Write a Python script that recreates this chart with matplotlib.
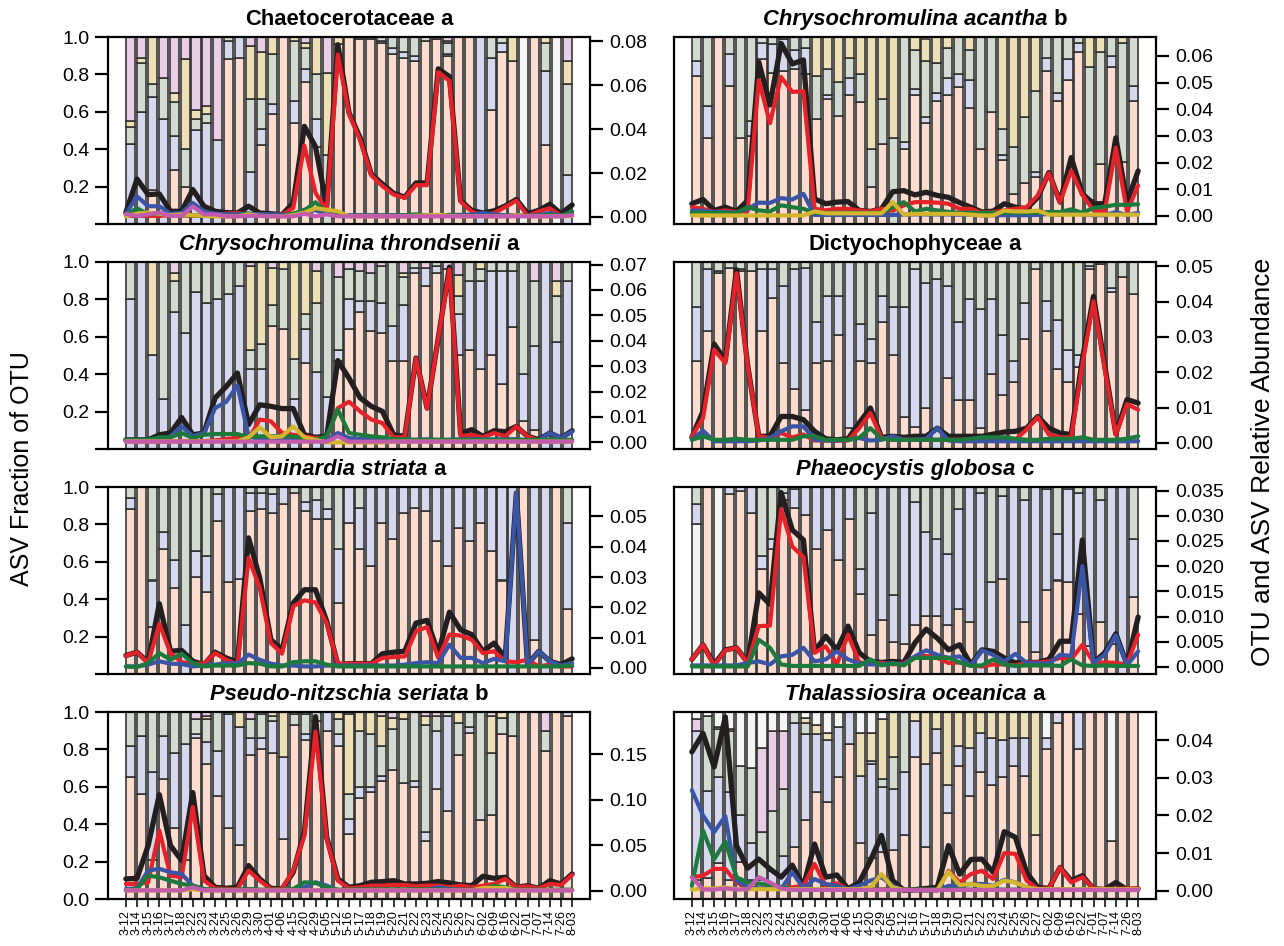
import numpy as np
import matplotlib.pyplot as plt

plt.rcParams['font.family'] = ['Liberation Sans', 'DejaVu Sans']

dates = ["3-12", "3-14", "3-15", "3-16", "3-17", "3-18", "3-22", "3-23", "3-24", "3-25",
         "3-26", "3-29", "3-30", "4-01", "4-06", "4-15", "4-20", "4-29", "5-05", "5-12",
         "5-16", "5-17", "5-18", "5-19", "5-20", "5-21", "5-22", "5-23", "5-24", "5-25",
         "5-26", "5-27", "6-02", "6-09", "6-16", "6-22", "7-01", "7-07", "7-14", "7-26", "8-03"]

# ---------- panel 1: Chaetocerotaceae a ----------
p1_red = [0, 0, .18, 0, .29, .20, 0, 0, 0, .88,
          .89, 0, .42, .59, 1, .54, .76, .41, 0, .96,
          1, .99, .99, .97, .91, .89, .87, .98, .99, .90,
          1, 1, 0, .61, .92, .87, 0, 1, .42, 0, 0]
p1_blue = [.43, .60, .50, .56, .18, 0, .50, .54, .45, .10,
           .11, .28, .09, .05, 0, .12, .07, .15, 0, 0,
           0, 0, 0, .01, .03, .03, .03, 0, 0, .01,
           0, 0, 1, .28, .05, 0, 0, 0, .40, 0, .26]
p1_green = [.09, .26, .07, .22, .18, .20, .06, .05, 0, .02,
            0, .39, .16, .27, 0, .32, .11, .24, .37, 0,
            0, .01, .01, .02, .06, .08, .10, .02, 0, .06,
            0, 0, 0, .11, .03, 0, 0, 0, .15, 0, .49]
p1_yellow = [.03, .03, .25, 0, .05, .48, .05, .04, 0, 0,
             0, .28, .25, .09, 0, .02, .03, .20, .44, .04,
             0, 0, 0, 0, 0, 0, 0, 0, .01, .01,
             0, 0, 0, 0, 0, .13, 0, 0, .03, 0, .12]
p1_pink = [.45, .11, 0, .22, .30, .12, .39, .37, .55, 0,
           0, .05, .08, 0, 0, 0, .03, 0, .19, 0,
           0, 0, 0, 0, 0, 0, 0, 0, 0, .02,
           0, 0, 0, 0, 0, 0, 0, 0, 0, 0, .13]
p1_other = [0, 0, 0, 0, 0, 0, 0, 0, 0, 0,
            0, 0, 0, 0, 0, 0, 0, 0, 0, 0,
            0, 0, 0, 0, 0, 0, 0, 0, 0, 0,
            0, 0, 0, 0, 0, 0, 1, 0, 0, 1, 0]
p1_otu = [0.002, 0.0173, 0.0102, 0.0105, 0.0026, 0.0026, 0.0125, 0.0049, 0.0026, 0.002,
          0.0018, 0.0049, 0.0018, 0.0015, 0.001, 0.0064, 0.0413, 0.032, 0.0049, 0.0785,
          0.0475, 0.036, 0.0195, 0.015, 0.0108, 0.009, 0.0155, 0.0155, 0.0675, 0.064,
          0.0075, 0.003, 0.0018, 0.0028, 0.005, 0.008, 0.0015, 0.003, 0.0058, 0.0015, 0.0055]
p1_red_ab = [0.0005, 0.0005, 0.0005, 0.0005, 0.0008, 0.0008, 0.0005, 0.0006, 0.0008, 0.0015,
             0.0018, 0.001, 0.0012, 0.001, 0.001, 0.004, 0.0325, 0.011, 0.003, 0.074,
             0.047, 0.035, 0.019, 0.014, 0.0102, 0.0087, 0.0145, 0.0145, 0.066, 0.062,
             0.007, 0.0025, 0.0005, 0.0018, 0.0045, 0.0075, 0.0005, 0.0025, 0.004, 0.0005, 0.0005]
p1_blue_ab = [0.0015, 0.0094, 0.0049, 0.0049, 0.0015, 0.0018, 0.0064, 0.0026, 0.0015, 0.0012,
              0.0012, 0.0015, 0.0012, 0.0012, 0.001, 0.0012, 0.0033, 0.003, 0.0015, 0.001,
              0.0008, 0.0008, 0.0008, 0.0008, 0.0008, 0.0008, 0.0008, 0.0008, 0.0008, 0.0008,
              0.001, 0.001, 0.0018, 0.0012, 0.0008, 0.0008, 0.0005, 0.0008, 0.0018, 0.0005, 0.0012]
p1_green_ab = [0.0008, 0.004, 0.0012, 0.0015, 0.0008, 0.0008, 0.0008, 0.0005, 0.0005, 0.0005,
               0.0005, 0.0015, 0.0005, 0.0005, 0.0005, 0.0015, 0.003, 0.0067, 0.002, 0.0005,
               0.0005, 0.0005, 0.0005, 0.0005, 0.0006, 0.0007, 0.0012, 0.0005, 0.0005, 0.001,
               0.0005, 0.0005, 0.0005, 0.0005, 0.0005, 0.0005, 0.0005, 0.0005, 0.001, 0.0005, 0.0025]
p1_yellow_ab = [0.0003, 0.0015, 0.002, 0.0015, 0.0008, 0.0012, 0.0008, 0.0005, 0.0003, 0.0003,
                0.0003, 0.0012, 0.0005, 0.0003, 0.0003, 0.0008, 0.002, 0.004, 0.0033, 0.0026,
                0.0003, 0.0003, 0.0003, 0.0003, 0.0003, 0.0003, 0.0005, 0.0008, 0.001, 0.0005,
                0.0003, 0.0003, 0.0003, 0.0003, 0.0003, 0.0008, 0.0003, 0.0003, 0.0003, 0.0003, 0.0005]
p1_pink_ab = [0.0014, 0.0005, 0.0012, 0.002, 0.0005, 0.0005, 0.0048, 0.0012, 0.0012, 0.0003,
              0.0003, 0.0005, 0.0005, 0.0003, 0.0003, 0.0003, 0.0015, 0.0003, 0.0012, 0.0003,
              0.0003, 0.0003, 0.0003, 0.0003, 0.0003, 0.0003, 0.0003, 0.0003, 0.0003, 0.0003,
              0.0003, 0.0003, 0.0003, 0.0003, 0.0003, 0.0003, 0.0003, 0.0003, 0.0003, 0.0003, 0.0008]

# ---------- panel 2: Chrysochromulina acantha b ----------
p2_red = [.79, .46, 1, .74, .46, .47, .88, .81, .82, .83,
          .80, .56, .67, .58, .69, .65, .20, .43, 0, .40,
          .69, .54, .66, .69, .73, .62, .40, .60, .34, .16,
          .22, .25, .82, .66, .77, .92, .13, .32, .84, .33, .66]
p2_blue = [.08, .17, 0, .17, 0, .08, .09, .15, .17, .10,
           .14, 0, .02, 0, .09, 0, 0, 0, 0, .04,
           .03, .03, .04, .09, .07, .15, 0, 0, .03, 0,
           0, .03, .07, .04, .11, .05, 0, 0, .06, 0, .08]
p2_green = [.13, .37, 0, .09, .54, .45, .03, .04, .01, .07,
            .06, .23, .14, .18, .11, .15, .20, .24, .46, .56,
            .21, .30, .16, .16, .20, .16, .60, .40, .14, .25,
            .35, .43, .11, .30, .12, .03, .71, .60, .10, .64, .26]
p2_yellow = [0, 0, 0, 0, 0, 0, 0, 0, 0, 0,
             0, .21, .17, .24, .11, .20, .60, .33, .54, 0,
             .07, .12, .14, .06, 0, .07, 0, 0, .49, .59,
             .43, .30, 0, 0, 0, 0, .16, .08, 0, .03, 0]
p2_otu = [0.0046, 0.0062, 0.0021, 0.0033, 0.0017, 0.0058, 0.0577, 0.0416, 0.0647, 0.057,
          0.0585, 0.0064, 0.0046, 0.0052, 0.0054, 0.0021, 0.0017, 0.0027, 0.0091, 0.0095,
          0.0079, 0.0089, 0.0077, 0.007, 0.005, 0.0033, 0.0015, 0.0018, 0.0046, 0.0033,
          0.0027, 0.007, 0.0163, 0.0052, 0.0219, 0.0083, 0.0046, 0.0046, 0.0293, 0.0052, 0.0169]
p2_red_ab = [0.0033, 0.0027, 0.0015, 0.0021, 0.0015, 0.0018, 0.0509, 0.0348, 0.0521, 0.0465,
             0.0468, 0.0027, 0.0021, 0.0027, 0.0027, 0.0021, 0.0017, 0.0027, 0.002, 0.004,
             0.0052, 0.0052, 0.005, 0.0046, 0.0027, 0.0027, 0.0012, 0.0015, 0.0021, 0.0027,
             0.0033, 0.0077, 0.016, 0.0052, 0.0169, 0.0079, 0.0021, 0.0017, 0.0256, 0.0017, 0.0114]
p2_blue_ab = [0.002, 0.002, 0.0015, 0.0015, 0.0012, 0.0027, 0.005, 0.0049, 0.0067, 0.0062,
              0.0083, 0.0004, 0.0004, 0.0004, 0.0004, 0.0004, 0.0004, 0.0004, 0.0004, 0.0005,
              0.0006, 0.0006, 0.0006, 0.0006, 0.0005, 0.0005, 0.0003, 0.0003, 0.0003, 0.0003,
              0.0003, 0.0004, 0.0008, 0.0004, 0.0015, 0.0005, 0.0003, 0.0003, 0.0015, 0.0003, 0.0012]
p2_green_ab = [0.0012, 0.0012, 0.0012, 0.0012, 0.0012, 0.0033, 0.0021, 0.0017, 0.004, 0.0033,
               0.0027, 0.0012, 0.0012, 0.0012, 0.0012, 0.0012, 0.0012, 0.0012, 0.0033, 0.0052,
               0.0017, 0.0027, 0.0021, 0.0015, 0.0012, 0.0012, 0.0012, 0.0012, 0.0012, 0.0012,
               0.0012, 0.0012, 0.0015, 0.0015, 0.0025, 0.0012, 0.003, 0.0035, 0.0042, 0.0042, 0.0044]
p2_yellow_ab = [0.0002, 0.0002, 0.0002, 0.0002, 0.0002, 0.0002, 0.0002, 0.0002, 0.0002, 0.0002,
                0.0002, 0.0017, 0.001, 0.001, 0.001, 0.001, 0.001, 0.001, 0.0052, 0.0005,
                0.0008, 0.0008, 0.0008, 0.0008, 0.0008, 0.0005, 0.0002, 0.0002, 0.002, 0.0017,
                0.0017, 0.002, 0.0005, 0.0005, 0.0005, 0.0005, 0.0005, 0.0005, 0.0005, 0.0005, 0.0005]

# ---------- panel 3: Chrysochromulina throndsenii a ----------
p3_red = [0, 0, 0, 0, 0, 0, 0, 0, 0, 0,
          0, 0, 0, .66, .64, 0, .46, 0, 0, .47,
          .64, .73, .63, .62, .47, .47, .94, .87, .94, .96,
          .50, .53, .43, .50, .35, .65, .15, .10, 0, 0, 0]
p3_blue = [.80, 1, .50, .27, .73, .62, .84, .78, .80, .83,
           .87, .43, .43, 0, 0, .27, .18, .41, .28, .06,
           .16, .06, .16, .16, .19, .30, .03, .10, .04, 0,
           .22, .37, .47, .45, .60, .30, .25, .45, 1, .57, .90]
p3_green = [.20, 0, 0, .73, .17, .38, .16, .22, .20, .17,
            .13, .10, .13, .11, .32, .21, .08, .37, .72, .39,
            .16, .16, .15, .20, .34, .15, .03, 0, .02, 0,
            .10, .10, .06, .05, .05, .05, .60, .35, 0, .25, .10]
p3_yellow = [0, 0, .50, 0, .04, 0, 0, 0, 0, 0,
             0, .45, .44, .20, .04, .52, .28, .17, 0, 0,
             0, 0, 0, 0, 0, .02, 0, 0, 0, 0,
             .11, 0, .04, 0, 0, 0, 0, 0, 0, .08, 0]
p3_pink = [0, 0, 0, 0, .06, 0, 0, 0, 0, 0,
           0, .02, 0, .03, 0, 0, 0, .05, 0, .08,
           .04, .05, .06, .02, 0, .06, 0, .03, 0, .04,
           .07, 0, 0, 0, 0, 0, 0, .10, 0, .10, 0]
p3_otu = [0.001, 0.001, 0.001, 0.003, 0.0037, 0.0098, 0.003, 0.0037, 0.0175, 0.022,
          0.0273, 0.007, 0.0148, 0.0142, 0.0133, 0.0133, 0.003, 0.002, 0.0024, 0.0322,
          0.0253, 0.0175, 0.0142, 0.0122, 0.003, 0.0024, 0.0332, 0.0135, 0.041, 0.069,
          0.0035, 0.005, 0.0024, 0.0046, 0.0042, 0.0063, 0.0024, 0.0011, 0.0037, 0.0017, 0.0046]
p3_red_ab = [0.0004, 0.0004, 0.0004, 0.0004, 0.0004, 0.0005, 0.0005, 0.0005, 0.0008, 0.0013,
             0.0018, 0.0013, 0.009, 0.0083, 0.0037, 0.003, 0.0024, 0.0017, 0.0017, 0.0135,
             0.016, 0.0122, 0.009, 0.0076, 0.002, 0.002, 0.033, 0.0133, 0.041, 0.068,
             0.0024, 0.003, 0.002, 0.0037, 0.0024, 0.0063, 0.0024, 0.0007, 0.0004, 0.0004, 0.0004]
p3_blue_ab = [0.001, 0.001, 0.001, 0.001, 0.0024, 0.0063, 0.0024, 0.0037, 0.0135, 0.016,
              0.0224, 0.0024, 0.0013, 0.0008, 0.0008, 0.0013, 0.0008, 0.0008, 0.0008, 0.0037,
              0.0017, 0.0013, 0.0012, 0.001, 0.001, 0.001, 0.001, 0.0012, 0.001, 0.001,
              0.0012, 0.0013, 0.0012, 0.0012, 0.0012, 0.0013, 0.0008, 0.0008, 0.0037, 0.0017, 0.0043]
p3_green_ab = [0.001, 0.001, 0.001, 0.002, 0.002, 0.0037, 0.0017, 0.003, 0.0033, 0.0033,
               0.0033, 0.002, 0.0024, 0.0024, 0.0024, 0.0024, 0.0014, 0.001, 0.0024, 0.0129,
               0.0037, 0.003, 0.0024, 0.002, 0.0013, 0.0012, 0.001, 0.001, 0.001, 0.001,
               0.001, 0.001, 0.001, 0.001, 0.001, 0.001, 0.001, 0.001, 0.001, 0.001, 0.001]
p3_yellow_ab = [0.0004, 0.0004, 0.0004, 0.0004, 0.0004, 0.0004, 0.0004, 0.0004, 0.0004, 0.0004,
                0.0004, 0.002, 0.0059, 0.002, 0.0024, 0.0063, 0.002, 0.001, 0.0, 0.0,
                0.0, 0.0, 0.0, 0.0, 0.0003, 0.0003, 0.0003, 0.0003, 0.0003, 0.0003,
                0.0003, 0.0003, 0.0003, 0.0003, 0.0003, 0.0003, 0.0003, 0.0003, 0.0003, 0.0003, 0.0003]
p3_pink_ab = [0.0003, 0.0003, 0.0003, 0.0003, 0.0003, 0.0003, 0.0003, 0.0003, 0.0003, 0.0003,
              0.0003, 0.0003, 0.0003, 0.0003, 0.0003, 0.0003, 0.0003, 0.0003, 0.0003, 0.0024,
              0.0003, 0.0003, 0.0003, 0.0003, 0.0003, 0.0003, 0.0003, 0.0003, 0.0003, 0.0003,
              0.0003, 0.0003, 0.0003, 0.0003, 0.0003, 0.0003, 0.0003, 0.0003, 0.0003, 0.0003, 0.0003]

# ---------- panel 4: Dictyochophyceae a ----------
p4_red = [.47, .63, .94, .97, .95, .95, .63, .81, .46, .32,
          .21, .46, .47, .61, .11, .47, .46, .68, .50, .17,
          .12, .22, 0, .38, .26, .26, .11, .40, .29, .36,
          .59, .96, .63, .43, .36, .44, .96, .99, .84, .92, .83]
p4_blue = [.29, .33, .01, 0, .01, 0, .33, .15, .41, .64,
           .76, .22, .35, .21, .89, .20, .13, .14, .26, .59,
           .84, .67, .91, .49, .42, .54, .64, .40, .32, .11,
           .19, 0, .16, .26, .17, .06, .02, .01, .02, 0, 0]
p4_green = [.24, .04, .05, .03, .04, .05, .04, .04, .13, .04,
            .03, .32, .18, .18, 0, .33, .41, .18, .24, .24,
            .04, .11, .09, .13, .32, .20, .25, .20, .39, .53,
            .22, .04, .21, .31, .47, .50, .02, 0, .14, .08, .17]
p4_otu = [0.0016, 0.009, 0.028, 0.0233, 0.049, 0.022, 0.0019, 0.0019, 0.0075, 0.0075,
          0.0066, 0.0033, 0.0012, 0.0009, 0.0012, 0.0057, 0.0099, 0.0016, 0.0019, 0.0016,
          0.0019, 0.0019, 0.0042, 0.0019, 0.0019, 0.0019, 0.0019, 0.0025, 0.0031, 0.0033,
          0.0042, 0.0075, 0.0042, 0.0028, 0.0024, 0.0236, 0.0415, 0.022, 0.0026, 0.0123, 0.0113]
p4_red_ab = [0.0019, 0.007, 0.0264, 0.0226, 0.048, 0.0217, 0.0019, 0.0014, 0.0028, 0.0016,
             0.0024, 0.0007, 0.0007, 0.0007, 0.0007, 0.0042, 0.0085, 0.0014, 0.0009, 0.0009,
             0.0009, 0.0009, 0.0009, 0.0009, 0.0009, 0.0009, 0.0009, 0.0009, 0.0009, 0.0009,
             0.0038, 0.0073, 0.0024, 0.0016, 0.0016, 0.0222, 0.0401, 0.021, 0.0024, 0.011, 0.0094]
p4_blue_ab = [0.0009, 0.0035, 0.0005, 0.0005, 0.0005, 0.0005, 0.0007, 0.0014, 0.0033, 0.0047,
              0.0047, 0.0009, 0.0007, 0.0007, 0.0009, 0.0014, 0.0007, 0.0009, 0.0019, 0.0009,
              0.0009, 0.0012, 0.0042, 0.0007, 0.0005, 0.0005, 0.0005, 0.0005, 0.0005, 0.0005,
              0.0005, 0.0005, 0.0005, 0.0005, 0.0005, 0.0005, 0.0005, 0.0005, 0.0005, 0.0005, 0.0005]
p4_green_ab = [0.0009, 0.0019, 0.0009, 0.0009, 0.0012, 0.0009, 0.0009, 0.0009, 0.0009, 0.0009,
               0.0019, 0.0019, 0.0009, 0.0009, 0.0009, 0.0015, 0.0042, 0.0012, 0.0009, 0.0009,
               0.0009, 0.0009, 0.0009, 0.0009, 0.0009, 0.0012, 0.0016, 0.0016, 0.0016, 0.0012,
               0.0009, 0.0009, 0.0012, 0.0012, 0.0012, 0.0016, 0.0009, 0.0009, 0.0009, 0.0012, 0.0019]

# ---------- panel 5: Guinardia striata a ----------
p5_red = [.88, 1, .25, .67, .46, 0, .52, .44, .82, .49,
          .51, .87, .88, .86, .91, .97, .87, .83, .83, .38,
          .81, .67, .58, .81, .72, .86, .89, .87, .71, .58,
          .78, .71, .81, .66, .50, 0, 1, .18, 0, 1, .35]
p5_blue = [.06, 0, .25, .09, .15, .26, .14, .19, .14, .51,
           .49, .10, .09, .10, .09, 0, .05, .10, .05, .29,
           .19, .22, .42, .19, .28, .14, .11, .13, .29, .42,
           .22, .29, .19, .34, .50, 1, 0, .82, 1, 0, .46]
p5_green = [.06, 0, .50, .24, .39, .74, .34, .37, .04, 0,
            0, .03, .03, .04, 0, .03, .08, .07, .12, .33,
            0, .11, 0, 0, 0, 0, 0, 0, 0, 0,
            0, 0, 0, 0, 0, 0, 0, 0, 0, 0, .19]
p5_otu = [0.0041, 0.0052, 0.0019, 0.0212, 0.0055, 0.0058, 0.0022, 0.0011, 0.0052, 0.0033,
          0.0019, 0.0429, 0.0297, 0.0093, 0.006, 0.0214, 0.0258, 0.0258, 0.0154, 0.0011,
          0.0014, 0.0014, 0.0014, 0.0047, 0.0052, 0.0055, 0.0148, 0.0157, 0.0049, 0.0184,
          0.0126, 0.011, 0.0055, 0.0082, 0.0033, 0.0577, 0.0011, 0.0055, 0.0022, 0.0011, 0.003]
p5_red_ab = [0.004, 0.0052, 0.0016, 0.0146, 0.0049, 0.0019, 0.0014, 0.0014, 0.0049, 0.0027,
             0.0011, 0.0363, 0.0264, 0.0082, 0.0047, 0.0203, 0.0223, 0.0216, 0.0148, 0.0014,
             0.0014, 0.0014, 0.0014, 0.0033, 0.0036, 0.0038, 0.0121, 0.0135, 0.0033, 0.011,
             0.0107, 0.0093, 0.0049, 0.0055, 0.0022, 0.0019, 0.0027, 0.0005, 0.0011, 0.0005, 0.0005]
p5_blue_ab = [0.0005, 0.0005, 0.0011, 0.0022, 0.0014, 0.0013, 0.0005, 0.0008, 0.0011, 0.0016,
              0.0014, 0.0044, 0.0027, 0.0014, 0.0008, 0.0008, 0.0005, 0.0005, 0.0008, 0.0008,
              0.0008, 0.0008, 0.0008, 0.0008, 0.0008, 0.0011, 0.0016, 0.0019, 0.0016, 0.0077,
              0.0033, 0.0033, 0.0016, 0.003, 0.0022, 0.0577, 0.0011, 0.0055, 0.0022, 0.0008, 0.0016]
p5_green_ab = [0.0005, 0.0003, 0.0016, 0.0049, 0.0027, 0.0047, 0.0016, 0.0005, 0.0008, 0.0008,
               0.0008, 0.0016, 0.0014, 0.0005, 0.0005, 0.0019, 0.0022, 0.0022, 0.0011, 0.0005,
               0.0005, 0.0005, 0.0005, 0.0005, 0.0005, 0.0005, 0.0005, 0.0005, 0.0005, 0.0005,
               0.0005, 0.0005, 0.0005, 0.0005, 0.0005, 0.0005, 0.0005, 0.0005, 0.0005, 0.0005, 0.0008]

# ---------- panel 6: Phaeocystis globosa c ----------
p6_other = [.80, 0, 1, 0, 0, 0, 0, 0, 0, 0,
            0, 0, 0, 0, 0, 0, 0, 0, 0, 0,
            0, 0, 0, 0, 0, 0, 0, 0, 0, 0,
            0, 0, 0, 0, 0, 0, 0, 0, 0, 0, 0]
p6_red = [0, 1, 0, .96, .98, .86, .56, .67, .93, .89,
          .85, .67, .77, .61, .83, .43, .21, .29, .17, .16,
          .26, .31, .31, .26, .35, .28, 0, .11, .51, 0,
          .28, .12, .45, .50, .49, .32, .15, .28, .16, 0, .41]
p6_blue = [.11, 0, 0, .04, .02, .14, .07, .05, .04, .10,
           .15, .33, .23, .39, .17, .13, .65, .71, .25, .84,
           .66, .45, .41, .38, .53, .72, .97, .38, .44, 1,
           .65, .88, .54, .25, .50, .65, .85, .65, .84, 1, .31]
p6_green = [.09, 0, 0, 0, 0, 0, .37, .28, .03, .01,
            0, 0, 0, 0, 0, .44, .14, 0, .58, 0,
            .08, .24, .28, .36, .12, 0, .03, .51, .05, 0,
            .07, 0, .01, .25, .01, .03, 0, .07, 0, 0, .28]
p6_otu = [0.0015, 0.0044, 0.0005, 0.0034, 0.0038, 0.0009, 0.0147, 0.0124, 0.0346, 0.0272,
          0.0252, 0.0031, 0.0061, 0.0034, 0.0081, 0.0028, 0.0011, 0.0009, 0.0011, 0.0009,
          0.0048, 0.0075, 0.0057, 0.0034, 0.0044, 0.0005, 0.0034, 0.0031, 0.0018, 0.0008,
          0.0009, 0.0009, 0.0015, 0.0051, 0.0051, 0.0252, 0.0009, 0.0028, 0.0066, 0.0005, 0.0099]
p6_red_ab = [0.0015, 0.0044, 0.0003, 0.0033, 0.0038, 0.0008, 0.0081, 0.0082, 0.0313, 0.0239,
             0.0218, 0.0028, 0.0041, 0.0005, 0.0064, 0.0009, 0.0007, 0.0008, 0.0005, 0.0007,
             0.002, 0.0022, 0.0018, 0.0008, 0.0009, 0.0003, 0.0001, 0.0005, 0.0005, 0.0003,
             0.0009, 0.0009, 0.0011, 0.0018, 0.0015, 0.0044, 0.0009, 0.0009, 0.0008, 0.0005, 0.0064]
p6_blue_ab = [0.0003, 0.0003, 0.0003, 0.0003, 0.0003, 0.0008, 0.0011, 0.0005, 0.0021, 0.0024,
              0.0038, 0.0011, 0.0015, 0.0031, 0.0015, 0.0007, 0.0005, 0.0005, 0.0007, 0.0005,
              0.0021, 0.0033, 0.0024, 0.0018, 0.0021, 0.0003, 0.0033, 0.0024, 0.0011, 0.0026,
              0.0008, 0.0007, 0.0007, 0.0024, 0.0022, 0.02, 0.0008, 0.0024, 0.0063, 0.0003, 0.0031]
p6_green_ab = [0.0001, 0.0001, 0.0001, 0.0001, 0.0001, 0.0001, 0.0054, 0.0038, 0.0005, 0.0002,
               0.0002, 0.0002, 0.0002, 0.0002, 0.0002, 0.0002, 0.0015, 0.0003, 0.0007, 0.0003,
               0.0018, 0.0018, 0.0018, 0.0018, 0.0009, 0.0002, 0.0003, 0.0015, 0.0005, 0.0002,
               0.0003, 0.0003, 0.0003, 0.0002, 0.0015, 0.0003, 0.0002, 0.0003, 0.0002, 0.0002, 0.0002]

# ---------- panel 7: Pseudo-nitzschia seriata b ----------
p7_red = [.65, .56, .21, .64, .38, .21, .86, .72, .55, .38,
          .29, .77, .80, .78, .32, .93, .85, .95, .90, .82,
          .35, .54, .57, .63, .69, .62, .60, .31, .59, .47,
          .77, .89, .42, .45, .88, .87, 1, 1, .79, 1, .98]
p7_blue = [.17, .31, .47, .23, .40, .62, .02, .12, .24, .61,
           .63, .09, .06, .17, .44, 0, .03, 0, .10, .06,
           .08, .06, .03, .03, 0, 0, .03, .05, .31, .51,
           0, .03, 0, 0, 0, 0, 0, 0, 0, 0, .02]
p7_green = [.18, .13, .32, .13, .22, .17, .08, .12, .21, 0,
            0, .10, .13, .03, 0, .06, .11, .05, 0, .08,
            .13, .30, .28, .16, .22, .34, .37, .57, .08, .02,
            .17, .08, .58, .33, .09, .13, 0, 0, .11, 0, 0]
p7_yellow = [0, 0, 0, 0, 0, 0, 0, .02, 0, .01,
             .08, 0, 0, .02, .24, 0, 0, 0, 0, .04,
             .43, .10, .12, .16, .06, .04, 0, .05, 0, 0,
             .06, 0, 0, .20, .03, 0, 0, 0, 0, 0, 0]
p7_pink = [0, 0, 0, 0, 0, 0, .04, .02, 0, 0,
           0, .04, .01, 0, 0, .01, .01, 0, 0, 0,
           .01, 0, 0, .02, .03, 0, 0, .02, .02, 0,
           0, 0, 0, .02, 0, 0, 0, 0, .10, 0, 0]
p7_otu = [0.0129, 0.0136, 0.0497, 0.1057, 0.0497, 0.0332, 0.108, 0.0166, 0.0037, 0.0026,
          0.0037, 0.0276, 0.0129, 0.0026, 0.0018, 0.0203, 0.0645, 0.1916, 0.059, 0.0129,
          0.0037, 0.0055, 0.0092, 0.0099, 0.011, 0.0074, 0.0074, 0.0081, 0.01, 0.0085,
          0.0063, 0.0055, 0.0158, 0.0136, 0.0147, 0.0037, 0.0055, 0.0026, 0.011, 0.0074, 0.0184]
p7_red_ab = [0.0074, 0.0074, 0.0092, 0.0663, 0.0166, 0.0147, 0.0921, 0.011, 0.0026, 0.0018,
             0.0018, 0.0221, 0.011, 0.0018, 0.0018, 0.0221, 0.0608, 0.175, 0.0571, 0.011,
             0.0026, 0.0037, 0.0055, 0.0055, 0.0063, 0.0063, 0.0048, 0.0055, 0.0055, 0.0037,
             0.0055, 0.0037, 0.0055, 0.0074, 0.0129, 0.0037, 0.0048, 0.0026, 0.0074, 0.0063, 0.0173]
p7_blue_ab = [0.0018, 0.0026, 0.0221, 0.024, 0.0203, 0.0184, 0.0055, 0.0018, 0.0005, 0.0005,
              0.0005, 0.0018, 0.0005, 0.0005, 0.0005, 0.0005, 0.0037, 0.0092, 0.0055, 0.0005,
              0.0005, 0.0005, 0.0005, 0.0005, 0.0005, 0.0005, 0.0005, 0.0005, 0.0037, 0.0018,
              0.0005, 0.0005, 0.0005, 0.0005, 0.0005, 0.0005, 0.0005, 0.0005, 0.0005, 0.0005, 0.0005]
p7_green_ab = [0.0003, 0.0018, 0.0166, 0.0147, 0.011, 0.0074, 0.0055, 0.0018, 0.0011, 0.0011,
               0.0011, 0.0018, 0.0011, 0.0011, 0.0011, 0.0018, 0.0092, 0.0085, 0.0037, 0.0011,
               0.0011, 0.0015, 0.0015, 0.0015, 0.0015, 0.0015, 0.0015, 0.0015, 0.0011, 0.0011,
               0.0011, 0.0011, 0.0011, 0.0055, 0.0037, 0.0011, 0.0011, 0.0011, 0.0011, 0.0011, 0.0011]
p7_yellow_ab = [0.0003, 0.0003, 0.0003, 0.0003, 0.0003, 0.0003, 0.0015, 0.0003, 0.0003, 0.0003,
                0.0003, 0.0003, 0.0003, 0.0003, 0.0003, 0.0003, 0.0003, 0.0003, 0.0003, 0.0003,
                0.0003, 0.0003, 0.0003, 0.0003, 0.0003, 0.0003, 0.0003, 0.0003, 0.0003, 0.0003,
                0.0003, 0.0003, 0.003, 0.003, 0.003, 0.0003, 0.0003, 0.0003, 0.0003, 0.0003, 0.0003]
p7_pink_ab = [0.0003, 0.0003, 0.0003, 0.0003, 0.0003, 0.0003, 0.0037, 0.0003, 0.0003, 0.0003,
              0.0003, 0.0003, 0.0003, 0.0003, 0.0003, 0.0003, 0.0003, 0.0003, 0.0003, 0.0003,
              0.0003, 0.0003, 0.0003, 0.0003, 0.0003, 0.0003, 0.0003, 0.0003, 0.0003, 0.0003,
              0.0003, 0.0003, 0.0003, 0.0003, 0.0003, 0.0003, 0.0003, 0.0003, 0.0003, 0.0003, 0.0003]

# ---------- panel 8: Thalassiosira oceanica a ----------
p8_red = [.10, .11, .19, .10, .20, .10, .05, .05, .05, .28,
          .42, .57, .52, .65, .83, .30, .22, .25, .26, .34,
          .76, .28, .78, .46, .71, .55, .68, .61, .65, .71,
          .66, .34, .80, .94, 1, .80, 1, 1, .31, 1, 1]
p8_blue = [.80, .47, .46, .47, .25, .20, .05, .10, .18, .66,
           .46, .31, .33, .27, .17, .36, .50, .35, .33, .34,
           .19, .44, .13, .15, .11, .26, .21, .25, .20, .15,
           .20, 0, .06, .06, 0, .20, 0, 0, 0, 0, 0]
p8_green = [0, .40, .26, .33, .26, .40, .26, .32, .36, .06,
            .06, 0, 0, 0, 0, 0, .02, .04, .17, .32,
            0, 0, 0, 0, 0, 0, 0, 0, 0, 0,
            0, 0, 0, 0, 0, 0, 0, 0, 0, 0, 0]
p8_yellow = [0, 0, .01, .01, 0, 0, 0, 0, 0, 0,
             .03, .05, .04, 0, 0, .23, .15, .32, .24, 0,
             .05, .28, .09, .39, .18, .19, .11, .14, .15, .14,
             .14, .66, 0, 0, 0, 0, 0, 0, 0, 0, 0]
p8_pink = [.065, 0, 0, 0, 0, 0, .45, .43, .31, 0,
           0, 0, 0, 0, 0, 0, 0, 0, 0, 0,
           0, 0, 0, 0, 0, 0, 0, 0, 0, 0,
           0, 0, 0, 0, 0, 0, 0, 0, 0, 0, 0]
p8_other = [.035, .02, .08, .09, .29, .30, .19, .10, .10, 0,
            .03, .07, .11, .08, 0, .11, .11, .04, 0, 0,
            0, 0, 0, 0, 0, 0, 0, 0, 0, 0,
            0, 0, .14, 0, 0, 0, 0, 0, .69, 0, 0]
p8_otu = [0.0369, 0.0418, 0.0329, 0.0462, 0.012, 0.006, 0.0084, 0.0058, 0.0036, 0.0068,
          0.0013, 0.0124, 0.0036, 0.0042, 0.0005, 0.0022, 0.008, 0.0147, 0.0027, 0.0001,
          0.0003, 0.0006, 0.0009, 0.012, 0.0044, 0.0083, 0.0084, 0.0049, 0.0157, 0.0142,
          0.0049, 0.0009, 0.0006, 0.0062, 0.0027, 0.004, 0.0005, 0.0003, 0.0022, 0.0003, 0.0005]
p8_red_ab = [0.0036, 0.004, 0.0058, 0.0058, 0.0022, 0.0006, 0.0005, 0.0006, 0.0009, 0.0009,
             0.0013, 0.0071, 0.0013, 0.002, 0.0003, 0.0003, 0.0003, 0.0003, 0.0003, 0.0001,
             0.0001, 0.0001, 0.0001, 0.0053, 0.0022, 0.0044, 0.0053, 0.0031, 0.01, 0.0098,
             0.0027, 0.0005, 0.0006, 0.0062, 0.0022, 0.0036, 0.0006, 0.0005, 0.0005, 0.0006, 0.0006]
p8_blue_ab = [0.0267, 0.02, 0.0156, 0.0198, 0.0027, 0.0009, 0.0006, 0.0006, 0.0004, 0.0049,
              0.0006, 0.0031, 0.0018, 0.0013, 0.0004, 0.0013, 0.0027, 0.0036, 0.0013, 0.0001,
              0.0001, 0.0001, 0.0001, 0.0013, 0.0013, 0.0018, 0.0018, 0.0013, 0.0029, 0.0022,
              0.0009, 0.0003, 0.0004, 0.0004, 0.0003, 0.0004, 0.0002, 0.0002, 0.0002, 0.0002, 0.0002]
p8_green_ab = [0.0013, 0.016, 0.0084, 0.0131, 0.0036, 0.0022, 0.0019, 0.0015, 0.0009, 0.0004,
               0.0003, 0.0003, 0.0003, 0.0003, 0.0003, 0.0003, 0.0003, 0.0003, 0.0003, 0.0003,
               0.0003, 0.0003, 0.0003, 0.0003, 0.0003, 0.0003, 0.0003, 0.0003, 0.0003, 0.0003,
               0.0003, 0.0003, 0.0003, 0.0003, 0.0003, 0.0003, 0.0003, 0.0003, 0.0003, 0.0003, 0.0003]
p8_yellow_ab = [0.0003, 0.0006, 0.0006, 0.0009, 0.0004, 0.0004, 0.0004, 0.0004, 0.0004, 0.0004,
                0.0004, 0.0004, 0.0004, 0.0004, 0.0004, 0.0004, 0.0009, 0.0044, 0.0009, 0.0002,
                0.0002, 0.0002, 0.0002, 0.0051, 0.0015, 0.0018, 0.0013, 0.0012, 0.0027, 0.0022,
                0.0009, 0.0004, 0.0004, 0.0004, 0.0004, 0.0004, 0.0004, 0.0004, 0.0004, 0.0004, 0.0004]
p8_pink_ab = [0.0036, 0.0003, 0.0003, 0.0006, 0.0003, 0.0004, 0.0036, 0.0022, 0.0006, 0.0002,
              0.0002, 0.0002, 0.0002, 0.0002, 0.0002, 0.0002, 0.0002, 0.0002, 0.0002, 0.0002,
              0.0002, 0.0002, 0.0002, 0.0002, 0.0002, 0.0002, 0.0002, 0.0002, 0.0002, 0.0002,
              0.0002, 0.0002, 0.0002, 0.0002, 0.0002, 0.0002, 0.0002, 0.0002, 0.0002, 0.0002, 0.0002]

bar_col = {"red": "#fddcd0", "blue": "#d6d9ee", "green": "#d3dbd0",
           "yellow": "#eee0b6", "pink": "#e9cee6", "other": "#f5f5f5"}
line_col = {"otu": "#231f20", "red": "#e52229", "blue": "#3a55a5",
            "green": "#1d7a3d", "yellow": "#d4b52e", "pink": "#c25bad"}

panels = [
    dict(name="Chaetocerotaceae", tag="a", italic=False,
         order=["red", "blue", "green", "yellow", "pink", "other"],
         fr=dict(red=p1_red, blue=p1_blue, green=p1_green, yellow=p1_yellow, pink=p1_pink, other=p1_other),
         otu=p1_otu, ab=dict(red=p1_red_ab, blue=p1_blue_ab, green=p1_green_ab, yellow=p1_yellow_ab, pink=p1_pink_ab),
         rlim=(-0.0032, 0.082), rticks=[0, 0.02, 0.04, 0.06, 0.08], fmt="%.2f"),
    dict(name="Chrysochromulina acantha", tag="b", italic=True,
         order=["red", "blue", "green", "yellow"],
         fr=dict(red=p2_red, blue=p2_blue, green=p2_green, yellow=p2_yellow),
         otu=p2_otu, ab=dict(red=p2_red_ab, blue=p2_blue_ab, green=p2_green_ab, yellow=p2_yellow_ab),
         rlim=(-0.003, 0.0671), rticks=[0, 0.01, 0.02, 0.03, 0.04, 0.05, 0.06], fmt="%.2f"),
    dict(name="Chrysochromulina throndsenii", tag="a", italic=True,
         order=["red", "blue", "green", "yellow", "pink"],
         fr=dict(red=p3_red, blue=p3_blue, green=p3_green, yellow=p3_yellow, pink=p3_pink),
         otu=p3_otu, ab=dict(red=p3_red_ab, blue=p3_blue_ab, green=p3_green_ab, yellow=p3_yellow_ab, pink=p3_pink_ab),
         rlim=(-0.0026, 0.071), rticks=[0, 0.01, 0.02, 0.03, 0.04, 0.05, 0.06, 0.07], fmt="%.2f"),
    dict(name="Dictyochophyceae", tag="a", italic=False,
         order=["red", "blue", "green"],
         fr=dict(red=p4_red, blue=p4_blue, green=p4_green),
         otu=p4_otu, ab=dict(red=p4_red_ab, blue=p4_blue_ab, green=p4_green_ab),
         rlim=(-0.0017, 0.0512), rticks=[0, 0.01, 0.02, 0.03, 0.04, 0.05], fmt="%.2f"),
    dict(name="Guinardia striata", tag="a", italic=True,
         order=["red", "blue", "green"],
         fr=dict(red=p5_red, blue=p5_blue, green=p5_green),
         otu=p5_otu, ab=dict(red=p5_red_ab, blue=p5_blue_ab, green=p5_green_ab),
         rlim=(-0.002, 0.0597), rticks=[0, 0.01, 0.02, 0.03, 0.04, 0.05], fmt="%.2f"),
    dict(name="Phaeocystis globosa", tag="c", italic=True,
         order=["other", "red", "blue", "green"],
         fr=dict(other=p6_other, red=p6_red, blue=p6_blue, green=p6_green),
         otu=p6_otu, ab=dict(red=p6_red_ab, blue=p6_blue_ab, green=p6_green_ab),
         rlim=(-0.0014, 0.0357), rticks=[0, 0.005, 0.01, 0.015, 0.02, 0.025, 0.03, 0.035], fmt="%.3f"),
    dict(name="Pseudo-nitzschia seriata", tag="b", italic=True,
         order=["red", "blue", "green", "yellow", "pink"],
         fr=dict(red=p7_red, blue=p7_blue, green=p7_green, yellow=p7_yellow, pink=p7_pink),
         otu=p7_otu, ab=dict(red=p7_red_ab, blue=p7_blue_ab, green=p7_green_ab, yellow=p7_yellow_ab, pink=p7_pink_ab),
         rlim=(-0.0092, 0.1967), rticks=[0, 0.05, 0.10, 0.15], fmt="%.2f"),
    dict(name="Thalassiosira oceanica", tag="a", italic=True,
         order=["red", "blue", "green", "yellow", "pink", "other"],
         fr=dict(red=p8_red, blue=p8_blue, green=p8_green, yellow=p8_yellow, pink=p8_pink, other=p8_other),
         otu=p8_otu, ab=dict(red=p8_red_ab, blue=p8_blue_ab, green=p8_green_ab, yellow=p8_yellow_ab, pink=p8_pink_ab),
         rlim=(-0.0022, 0.0475), rticks=[0, 0.01, 0.02, 0.03, 0.04], fmt="%.2f"),
]

n = len(dates)
W, H = 1284, 946
fig = plt.figure(figsize=(W / 100, H / 100), dpi=100)
renderer = fig.canvas.get_renderer()

bar_x = 0.7 + 1.2 * np.arange(n)
line_x = np.arange(1, n + 1)
box_left = [108, 674]
box_top = [37, 262, 487, 712]
box_w, box_h = 482, 187

for k, p in enumerate(panels):
    row, col = divmod(k, 2)
    rect = [box_left[col] / W, 1 - (box_top[row] + box_h) / H, box_w / W, box_h / H]

    # stacked ASV fractions
    ax = fig.add_axes(rect)
    base = np.zeros(n)
    for cat in p["order"]:
        v = np.array(p["fr"][cat], dtype=float)
        m = v > 0
        ax.bar(bar_x[m], v[m], width=1.0, bottom=base[m], color=bar_col[cat],
               edgecolor="#2e2e2e", linewidth=1.15)
        base += v
    ax.set_xlim(-1.76, 51.16)
    ax.set_ylim(0, 1)
    ax.set_xticks([])
    for s in ax.spines.values():
        s.set_linewidth(1.6)
    if col == 0:
        ax.set_yticks([0, 0.2, 0.4, 0.6, 0.8, 1.0])
        labs = ["0.0" if row == 3 else "", "0.2", "0.4", "0.6", "0.8", "1.0"]
        ax.set_yticklabels(labs)
        ax.tick_params(axis="y", length=9.5, width=1.6, labelsize=14, pad=4)
    else:
        ax.set_yticks([])

    # relative abundance lines
    ax2 = fig.add_axes(rect, label="ab%d" % k)
    ax2.set_facecolor("none")
    for s in ax2.spines.values():
        s.set_visible(False)
    ax2.set_xlim(-0.6, 42.6)
    ax2.set_ylim(*p["rlim"])
    ax2.plot(line_x, p["otu"], color=line_col["otu"], lw=3.8,
             solid_joinstyle="round", solid_capstyle="round")
    for cat in ["red", "blue", "green", "yellow", "pink"]:
        if cat in p["ab"]:
            ax2.plot(line_x, p["ab"][cat], color=line_col[cat], lw=3.0,
                     solid_joinstyle="round", solid_capstyle="round")
    ax2.yaxis.tick_right()
    ax2.set_yticks(p["rticks"])
    ax2.set_yticklabels([p["fmt"] % t for t in p["rticks"]])
    ax2.tick_params(axis="y", length=9, width=1.6, labelsize=14, pad=5)
    if row == 3:
        ax2.set_xticks(line_x)
        ax2.set_xticklabels(dates, rotation=90, fontsize=9)
        ax2.tick_params(axis="x", length=6, width=1.1, pad=2)
    else:
        ax2.set_xticks([])

    # title: italic taxon name plus plain tag
    xc = (box_left[col] + box_w / 2) / W
    ty = 1 - (box_top[row] - 12) / H
    t1 = fig.text(0, ty, p["name"], fontsize=15.8, fontweight="bold",
                  fontstyle="italic" if p["italic"] else "normal", va="baseline")
    t2 = fig.text(0, ty, "\u00a0" + p["tag"], fontsize=15.8, fontweight="bold", va="baseline")
    w1 = t1.get_window_extent(renderer).width / W
    w2 = t2.get_window_extent(renderer).width / W
    t1.set_x(xc - (w1 + w2) / 2)
    t2.set_x(xc - (w1 + w2) / 2 + w1)

fig.text(22 / W, 1 - 469 / H, "ASV Fraction of OTU", rotation=90, ha="center", va="center", fontsize=18)
fig.text(1263 / W, 1 - 462 / H, "OTU and ASV Relative Abundance", rotation=90,
         ha="center", va="center", fontsize=19)

fig.savefig("out.png", dpi=100)
